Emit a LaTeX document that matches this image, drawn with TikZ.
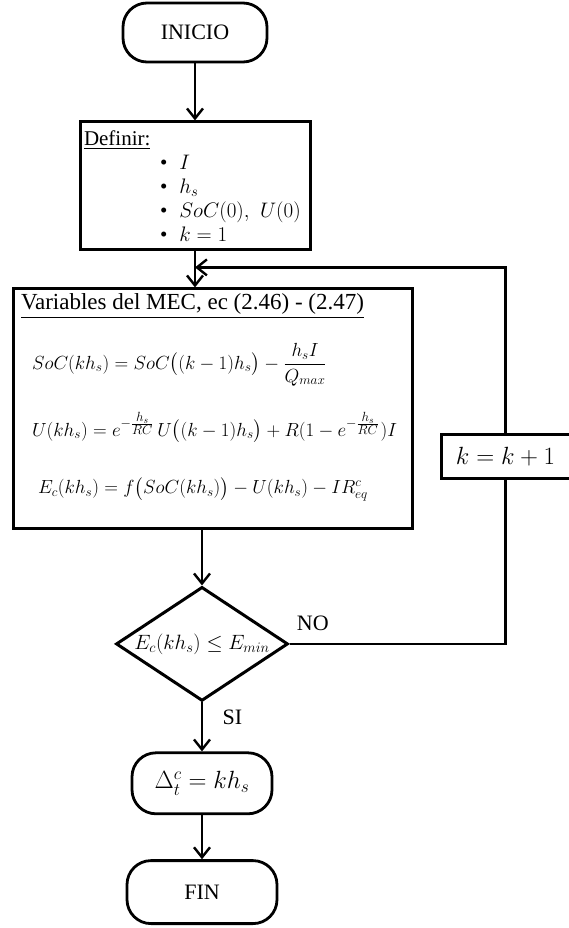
\RequirePackage{fix-cm}
\documentclass[tikz,border=0pt]{standalone}
\usepackage{amsmath,amssymb}
\usepackage{fontspec}
\setmainfont{Liberation Serif}
\usepackage{tikz}
\usetikzlibrary{positioning,shapes.geometric,arrows.meta}

\newcommand{\hexp}{-\frac{\scriptstyle h_s}{\scriptstyle RC}}

\begin{document}
\begin{tikzpicture}[x=1pt,y=1pt,font=\fontsize{22}{26}\selectfont,
  terminal/.style={draw=black,line width=2.8pt,rounded corners=24pt,inner sep=0pt},
  procbox/.style={draw=black,line width=3pt,inner sep=0pt},
  decision/.style={draw=black,line width=3pt,diamond,aspect=1.5,inner sep=0pt,
    minimum width=172pt,minimum height=114pt},
  eqn/.style={anchor=west,font=\fontsize{19}{23}\selectfont},
  flow/.style={line width=2.4pt,-{Straight Barb[length=10pt,width=16pt]}}]
  \useasboundingbox (0,0) rectangle (569,-928);

  \node[terminal,minimum width=144pt,minimum height=59pt] (inicio) at (195,-32.5) {INICIO};
  \node[procbox,node distance=57pt,below=of inicio,minimum width=230pt,minimum height=128pt,
    text width=222pt,align=left,font=\fontsize{21}{26}\selectfont] (defn)
    {\underline{Definir:}\\[-2pt]
     \hspace*{76pt}\textbullet\hspace{12pt}$I$\\[-2pt]
     \hspace*{76pt}\textbullet\hspace{12pt}$h_s$\\[-2pt]
     \hspace*{76pt}\textbullet\hspace{12pt}$SoC(0),\ U(0)$\\[-2pt]
     \hspace*{76pt}\textbullet\hspace{12pt}$k=1$};
  \coordinate[node distance=16pt,below=of defn] (merge);

  \node[procbox,node distance=36pt,below=of defn,xshift=17.5pt,minimum width=399pt,
    minimum height=240pt] (mec) {};
  \node[anchor=base west,font=\fontsize{23}{27}\selectfont] (mectitle)
    at ([xshift=6pt,yshift=-22pt]mec.north west)
    {\underline{Variables del MEC, ec (2.46) - (2.47)}};
  \node[eqn] (eqsoc) at ([xshift=17pt,yshift=-77pt]mec.north west)
    {$SoC(kh_s) = SoC\big((k-1)h_s\big) - \dfrac{h_sI}{Q_{max}}$};
  \node[eqn] (equ) at ([xshift=17pt,yshift=-140pt]mec.north west)
    {$U(kh_s) = e^{\hexp}\,U\big((k-1)h_s\big) + R(1-e^{\hexp}\mkern1mu)I$};
  \node[eqn] (eqec) at ([xshift=23pt,yshift=-202pt]mec.north west)
    {$E_c(kh_s) = f\big(SoC(kh_s)\big) - U(kh_s) - IR^c_{eq}$};

  \node[procbox,node distance=26pt,right=of mec,yshift=-47.5pt,minimum width=129pt,
    minimum height=44pt,font=\fontsize{24.9}{29}\selectfont] (kinc) {$k = k+1$};

  \node[decision,node distance=55pt,below=of mec,xshift=-10.5pt,
    font=\fontsize{20.7}{25}\selectfont] (dec) {$E_c(kh_s) \le E_{min}$};
  \node[terminal,node distance=49pt,below=of dec,minimum width=140pt,minimum height=61pt,
    font=\fontsize{24.9}{29}\selectfont] (delta) {$\Delta^{c}_{t} = kh_s$};
  \node[terminal,node distance=44pt,below=of delta,minimum width=150pt,minimum height=63pt] (fin) {FIN};

  \path[flow]
  (inicio) edge (defn)
  (defn.south) edge (defn.south |- mec.north)
  (mec.south -| dec.north) edge (dec.north)
  (dec) edge node[pos=0.3,anchor=west,xshift=16pt] {SI} (delta)
  (delta) edge (fin);

  \draw[line width=2.6pt] (dec.east) -| node[pos=0.054,above=9pt] {NO} (kinc.south);
  \draw[flow] (kinc.north) |- (merge);
\end{tikzpicture}
\end{document}
